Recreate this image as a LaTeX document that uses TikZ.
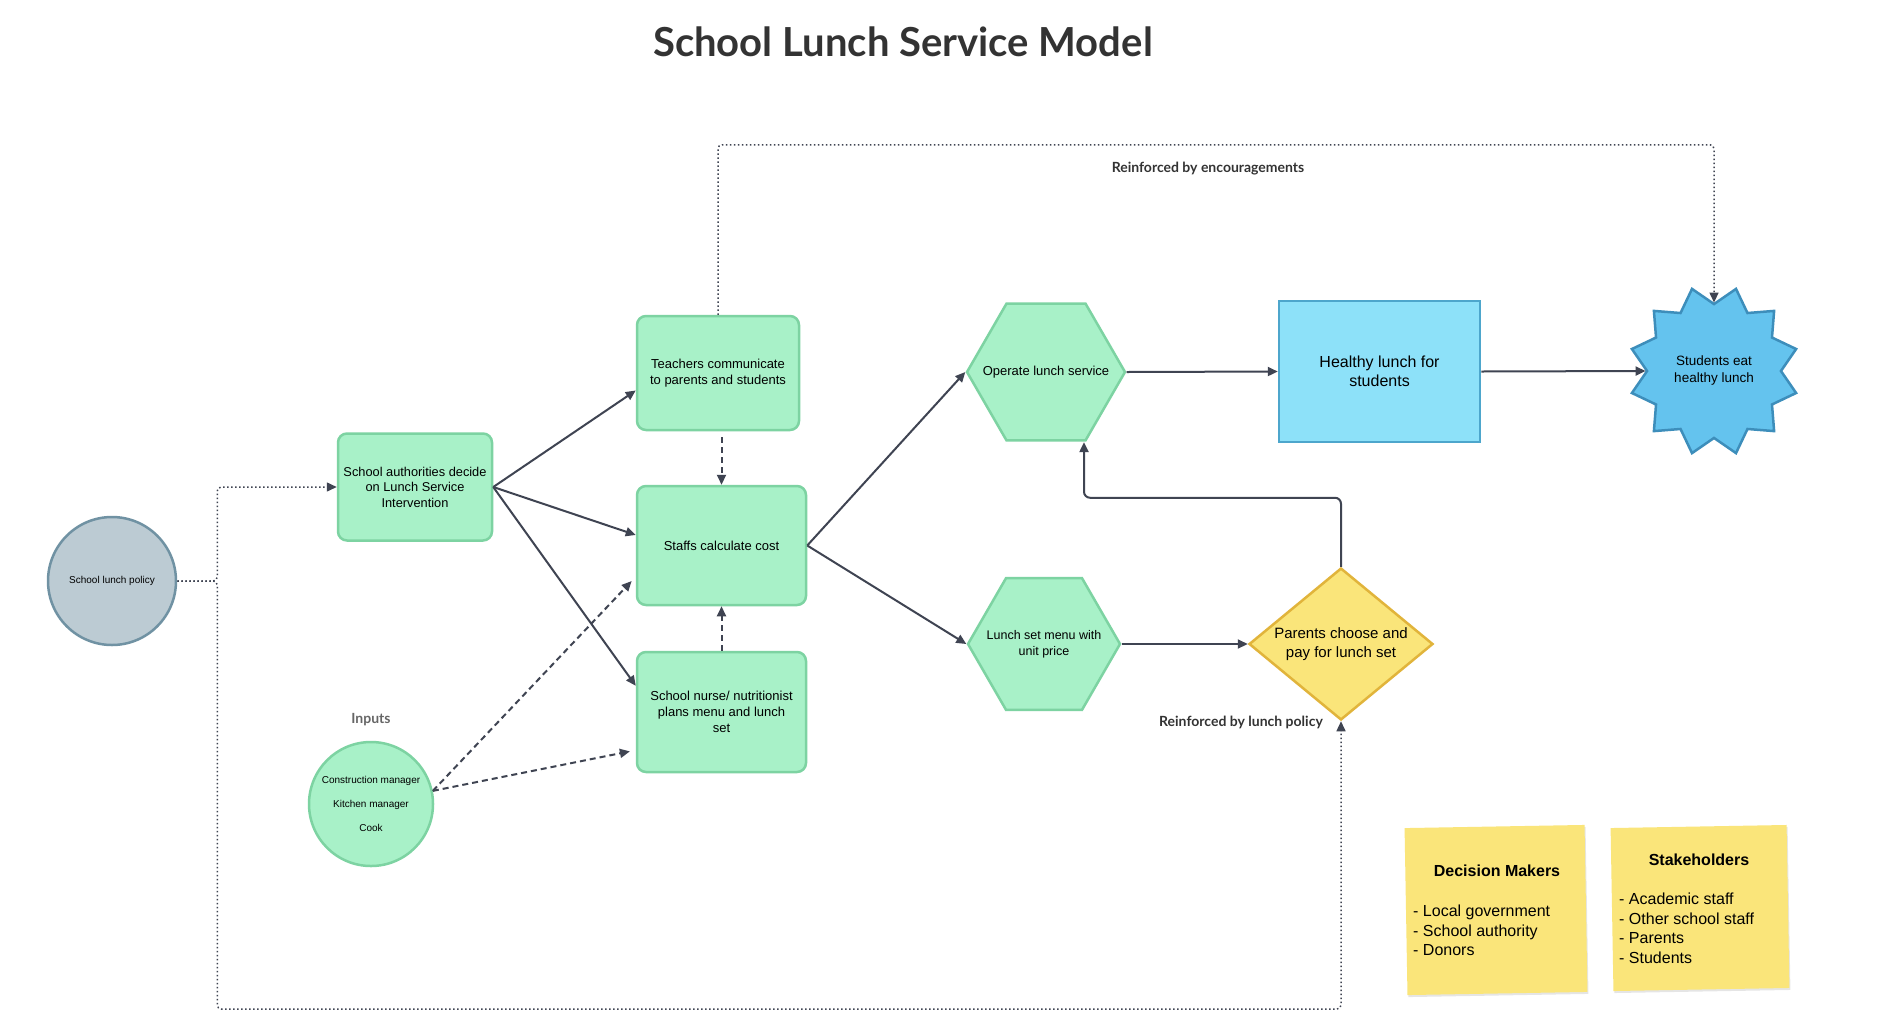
\documentclass[tikz,border=0pt]{standalone}
\usepackage{fontspec}
\setmainfont{Liberation Sans}
\newfontfamily\latofont{Lato}
\usetikzlibrary{shapes.geometric,arrows.meta,shadows,calc}
\definecolor{leaf}{HTML}{A8F1C8}
\definecolor{leafline}{HTML}{7DD3A2}
\definecolor{slate}{HTML}{BCCBD3}
\definecolor{slateline}{HTML}{7092A3}
\definecolor{sky}{HTML}{8DE1F9}
\definecolor{skyline}{HTML}{4DA6CC}
\definecolor{starfill}{HTML}{64C3EE}
\definecolor{starline}{HTML}{3D8EBB}
\definecolor{butter}{HTML}{FAE57A}
\definecolor{butterline}{HTML}{E1B43B}
\definecolor{ink}{HTML}{3F4452}
\begin{document}
\begin{tikzpicture}[x=1pt,y=-1pt,
  box/.style={draw=leafline,fill=leaf,line width=2.5pt,rounded corners=9pt,align=center,font=\fontsize{13}{16}\selectfont},
  hexa/.style={minimum width=2*#1+3pt,minimum height=1.732*#1+3pt,inner sep=0pt,align=center,font=\fontsize{13}{16}\selectfont,
    path picture={\filldraw[draw=leafline,fill=leaf,line width=2.5pt]
      ([xshift=1.5pt]path picture bounding box.west)
      -- ([xshift=-#1/2,yshift=-1.5pt]path picture bounding box.north)
      -- ([xshift=#1/2,yshift=-1.5pt]path picture bounding box.north)
      -- ([xshift=-1.5pt]path picture bounding box.east)
      -- ([xshift=#1/2,yshift=1.5pt]path picture bounding box.south)
      -- ([xshift=-#1/2,yshift=1.5pt]path picture bounding box.south) -- cycle;}},
  flow/.style={draw=ink,line width=2pt,-{Triangle[length=10pt,width=9pt]}},
  dashline/.style={flow,dash pattern=on 6pt off 4pt},
  dotline/.style={flow,line width=1.5pt,dash pattern=on 1.5pt off 2.5pt,rounded corners=4pt},
  sticky/.style={fill=butter,rotate=1,drop shadow={opacity=0.2,shadow xshift=1pt,shadow yshift=-2pt}},
  remark/.style={font=\latofont\bfseries\fontsize{14}{16}\selectfont,text=black!80}]
  \fill[white] (0,0) rectangle (1894,1031);
  \useasboundingbox (0,0) rectangle (1894,1031);
  \node[font=\latofont\bfseries\fontsize{40}{48}\selectfont,text=black!80] (title) at (903,42) {School Lunch Service Model};
  % left side
  \node[circle,draw=slateline,fill=slate,line width=2.5pt,minimum size=128pt,inner sep=0pt,font=\fontsize{10}{12}\selectfont] (policy) at (112,581) {School lunch policy};
  \node[box,minimum width=154pt,minimum height=107pt,font=\fontsize{12.8}{15.5}\selectfont] (auth) at (415,487) {School authorities decide\\on Lunch Service\\Intervention};
  \node[box,minimum width=162pt,minimum height=114pt] (teach) at (718,373) {Teachers communicate\\to parents and students};
  \node[box,minimum width=169pt,minimum height=119pt] (staff) at (721.5,545.5) {Staffs calculate cost};
  \node[box,minimum width=169pt,minimum height=120pt] (nurse) at (721.5,712) {School nurse/ nutritionist\\plans menu and lunch\\set};
  \node[circle,draw=leafline,fill=leaf,line width=2.5pt,minimum size=124pt,inner sep=0pt,align=center,font=\fontsize{10}{24}\selectfont] (inputs) at (371,804) {Construction manager\\Kitchen manager\\Cook};
  \node[font=\latofont\bfseries\fontsize{14}{16}\selectfont,text=black!60] (inlabel) at (371,720) {Inputs};
  % right side
  \node[hexa=79pt] (oper) at (1046,372) {Operate lunch service};
  \node[hexa=76pt,font=\fontsize{12.5}{16}\selectfont] (menu) at (1044,644) {Lunch set menu with\\unit price};
  \node[draw=skyline,fill=sky,line width=2.5pt,minimum width=201pt,minimum height=141pt,align=center,font=\fontsize{16}{19.5}\selectfont] (meal) at (1379.5,371.5) {Healthy lunch for\\students};
  \node[star,star points=12,star point ratio=1.27,shape border rotate=15,draw=starline,fill=starfill,line width=2.5pt,minimum size=170pt,inner sep=0pt,align=center,font=\fontsize{13.5}{17}\selectfont] (eat) at (1714,371) {Students eat\\healthy lunch};
  \node[diamond,aspect=1.21,draw=butterline,fill=butter,line width=2.5pt,minimum width=184pt,minimum height=152pt,inner sep=0pt,align=center,font=\fontsize{15}{19.5}\selectfont] (parents) at (1341,644) {Parents choose and\\pay for lunch set};
  \node[remark] (enc) at (1208,169) {Reinforced by encouragements};
  \node[remark] (pol) at (1241,722) {Reinforced by lunch policy};
  % sticky notes
  \node[sticky,minimum width=180pt,minimum height=167pt] (makers) at (1496,910) {};
  \node[font=\bfseries\fontsize{16}{19}\selectfont] (makershead) at (1497,871) {Decision Makers};
  \node[anchor=north west,align=left,inner sep=0pt,font=\fontsize{16}{19.5}\selectfont] (makerslist) at (1413,905) {- Local government\\- School authority\\- Donors};
  \node[sticky,minimum width=176pt,minimum height=163pt] (holders) at (1700,908) {};
  \node[font=\bfseries\fontsize{16}{19}\selectfont] (holdershead) at (1699,860) {Stakeholders};
  \node[anchor=north west,align=left,inner sep=0pt,font=\fontsize{16}{19.5}\selectfont] (holderslist) at (1619,893) {- Academic staff\\- Other school staff\\- Parents\\- Students};
  % connectors
  \draw[flow] (auth.east) -- (teach.192);
  \draw[flow] (auth.east) -- (staff.173);
  \draw[flow] (auth.east) -- (nurse.163);
  \draw[flow] (staff.east) -- (oper.west);
  \draw[flow] (staff.east) -- (menu.west);
  \draw[flow] (oper.east) -- (meal.west);
  \draw[flow] (meal.east) -- (eat.west);
  \draw[flow] (menu.east) -- (parents.west);
  \draw[flow,rounded corners=6pt] (parents.north) -- ++(0,-69) -| ($(oper.south)+(38,0)$);
  \draw[dashline,shorten <=6pt] (staff.north |- teach.south) -- (staff.north);
  \draw[dashline] (nurse.north) -- (staff.south);
  \draw[dashline,shorten >=6pt] (inputs.12) -- (staff.200);
  \draw[dashline,shorten >=6pt] (inputs.12) -- (nurse.204);
  \draw[dotline] (teach.north) -- ++(0,-170) -| (eat.north);
  \draw[dotline] (policy.east) -- ++(40,0) |- (auth.west);
  \draw[dotline] (policy.east) -- ++(40,0) -- ++(0,428) -| (parents.south);
\end{tikzpicture}
\end{document}
